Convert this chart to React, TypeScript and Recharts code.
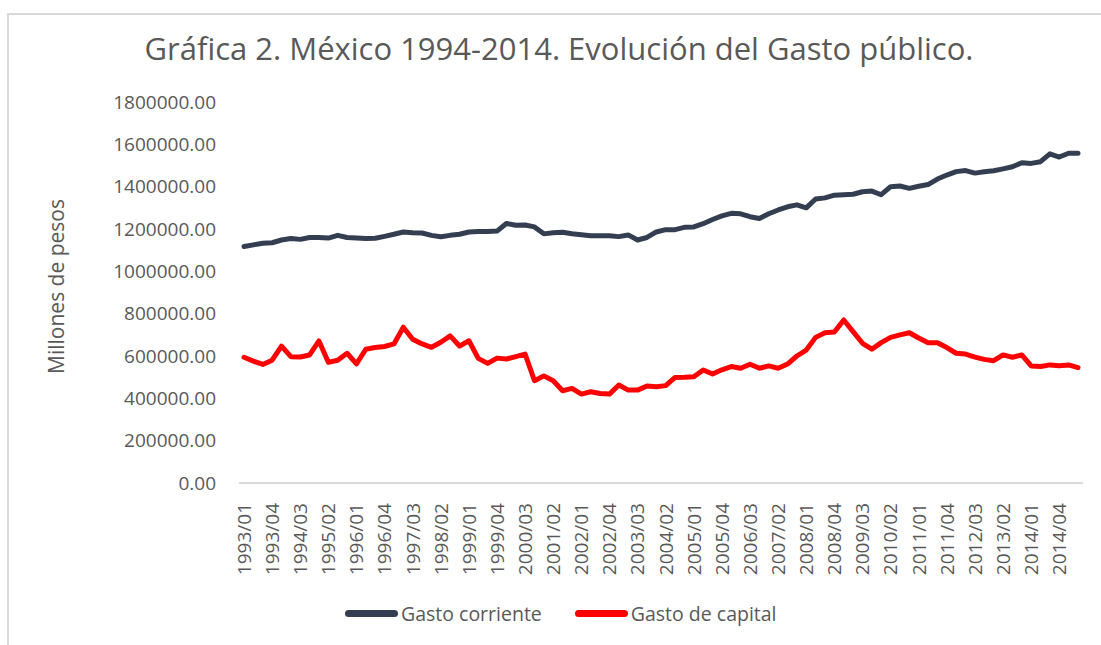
import React from 'react';
import { LineChart, Line, XAxis, YAxis, Legend, Label } from 'recharts';

const categories = [
  '1993/01','1993/02','1993/03','1993/04','1994/01','1994/02','1994/03','1994/04',
  '1995/01','1995/02','1995/03','1995/04','1996/01','1996/02','1996/03','1996/04',
  '1997/01','1997/02','1997/03','1997/04','1998/01','1998/02','1998/03','1998/04',
  '1999/01','1999/02','1999/03','1999/04','2000/01','2000/02','2000/03','2000/04',
  '2001/01','2001/02','2001/03','2001/04','2002/01','2002/02','2002/03','2002/04',
  '2003/01','2003/02','2003/03','2003/04','2004/01','2004/02','2004/03','2004/04',
  '2005/01','2005/02','2005/03','2005/04','2006/01','2006/02','2006/03','2006/04',
  '2007/01','2007/02','2007/03','2007/04','2008/01','2008/02','2008/03','2008/04',
  '2009/01','2009/02','2009/03','2009/04','2010/01','2010/02','2010/03','2010/04',
  '2011/01','2011/02','2011/03','2011/04','2012/01','2012/02','2012/03','2012/04',
  '2013/01','2013/02','2013/03','2013/04','2014/01','2014/02','2014/03','2014/04',
  '2015/01','2015/02',
];

const gastoCorriente = [
  1117000, 1125000, 1133000, 1135000, 1148000, 1155000, 1151000, 1160000, 1160000, 1157000,
  1170000, 1160000, 1158000, 1155000, 1156000, 1165000, 1175000, 1186000, 1182000, 1181000,
  1170000, 1163000, 1170000, 1175000, 1186000, 1188000, 1188000, 1190000, 1226000, 1218000,
  1219000, 1210000, 1177000, 1182000, 1185000, 1178000, 1173000, 1168000, 1168000, 1168000,
  1164000, 1172000, 1148000, 1160000, 1186000, 1197000, 1197000, 1208000, 1210000, 1225000,
  1245000, 1262000, 1274000, 1272000, 1258000, 1250000, 1272000, 1290000, 1305000, 1314000,
  1300000, 1342000, 1347000, 1360000, 1362000, 1364000, 1376000, 1379000, 1362000, 1400000,
  1403000, 1392000, 1402000, 1410000, 1436000, 1455000, 1471000, 1476000, 1464000, 1470000,
  1475000, 1484000, 1494000, 1513000, 1510000, 1518000, 1555000, 1540000, 1558000, 1558000,
];

const gastoCapital = [
  594000, 576000, 560000, 580000, 647000, 597000, 595000, 605000, 671000, 570000,
  580000, 613000, 563000, 632000, 640000, 645000, 657000, 736000, 679000, 657000,
  641000, 665000, 695000, 647000, 672000, 589000, 565000, 590000, 586000, 597000,
  609000, 483000, 506000, 483000, 436000, 447000, 420000, 431000, 423000, 420000,
  463000, 439000, 439000, 458000, 455000, 460000, 499000, 500000, 502000, 534000,
  515000, 535000, 550000, 542000, 561000, 542000, 553000, 542000, 562000, 600000,
  628000, 688000, 710000, 713000, 770000, 715000, 660000, 632000, 663000, 688000,
  700000, 710000, 685000, 663000, 663000, 640000, 613000, 609000, 595000, 584000,
  578000, 605000, 594000, 605000, 553000, 550000, 558000, 554000, 558000, 545000,
];

const yTicks = [0, 200000, 400000, 600000, 800000, 1000000, 1200000, 1400000, 1600000, 1800000];

const seriesNames = { corriente: 'Gasto corriente', capital: 'Gasto de capital' };
const titleText = 'Gráfica 2. México 1994-2014. Evolución del Gasto público.';
const yAxisTitle = 'Millones de pesos';

const data = categories.map((c, i) => ({
  periodo: c,
  corriente: gastoCorriente[i],
  capital: gastoCapital[i],
}));

const FONT = '"Open Sans", "Noto Sans", sans-serif';
const GRAY = '#595959';
const DARK = '#333F50';
const RED = '#FF0000';

const XTick = (props: any) => {
  const { x, y, payload } = props;
  return (
    <text
      x={x}
      y={y}
      transform={`rotate(-90 ${x} ${y})`}
      textAnchor="end"
      dy="0.36em"
      fill={GRAY}
      fontSize={19}
      fontFamily={FONT}
    >
      {payload.value}
    </text>
  );
};

const YTitle = (props: any) => {
  const vb = props.viewBox || {};
  const cx = 56;
  const cy = (vb.y || 0) + (vb.height || 0) / 2 - 6;
  return (
    <text
      x={cx}
      y={cy}
      transform={`rotate(-90 ${cx} ${cy})`}
      textAnchor="middle"
      dy="0.36em"
      fill={GRAY}
      fontSize={21}
      fontFamily={FONT}
    >
      {yAxisTitle}
    </text>
  );
};

const renderLegend = () => (
  <div
    style={{
      display: 'flex',
      alignItems: 'center',
      fontFamily: FONT,
      fontSize: 19.5,
      color: GRAY,
      whiteSpace: 'nowrap',
    }}
  >
    <span style={{ display: 'inline-block', width: 53, height: 7, borderRadius: 4, background: DARK }} />
    <span style={{ marginLeft: 3 }}>{seriesNames.corriente}</span>
    <span style={{ display: 'inline-block', width: 53, height: 7, borderRadius: 4, background: RED, marginLeft: 33 }} />
    <span style={{ marginLeft: 3 }}>{seriesNames.capital}</span>
  </div>
);

export default function App() {
  return (
    <div style={{ position: 'absolute', left: 0, top: 0, width: 1101, height: 645, background: '#fff', overflow: 'hidden' }}>
      <div
        style={{
          position: 'absolute',
          left: 7,
          top: 13,
          right: -4,
          bottom: -4,
          borderLeft: '2px solid #d9d9d9',
          borderTop: '2px solid #d9d9d9',
        }}
      />
      <div
        style={{
          position: 'absolute',
          left: 0,
          top: 27,
          width: 1118,
          textAlign: 'center',
          fontFamily: FONT,
          fontSize: 31,
          color: GRAY,
          whiteSpace: 'nowrap',
        }}
      >
        {titleText}
      </div>
      <div style={{ position: 'absolute', left: 0, top: 0 }}>
        <LineChart width={1101} height={645} data={data} margin={{ top: 102, right: 18, bottom: 62, left: 0 }}>
          <XAxis
            dataKey="periodo"
            interval={2}
            tick={<XTick />}
            tickLine={false}
            tickMargin={14}
            height={100}
            padding={{ left: 5, right: 5 }}
            axisLine={{ stroke: '#d9d9d9', strokeWidth: 2 }}
          />
          <YAxis
            type="number"
            domain={[0, 1800000]}
            ticks={yTicks}
            interval={0}
            width={239}
            axisLine={false}
            tickLine={false}
            tickMargin={17}
            tickFormatter={(v: number) => v.toFixed(2)}
            tick={{ fill: GRAY, fontSize: 19, fontFamily: FONT }}
          >
            <Label content={<YTitle />} />
          </YAxis>
          <Legend
            content={renderLegend}
            layout="horizontal"
            verticalAlign="middle"
            align="center"
            wrapperStyle={{ position: 'absolute', left: 345, top: 600, width: 600, height: 28 }}
          />
          <Line
            type="linear"
            dataKey="corriente"
            name={seriesNames.corriente}
            stroke={DARK}
            strokeWidth={5}
            strokeLinejoin="round"
            strokeLinecap="round"
            dot={false}
            activeDot={false}
            isAnimationActive={false}
          />
          <Line
            type="linear"
            dataKey="capital"
            name={seriesNames.capital}
            stroke={RED}
            strokeWidth={5}
            strokeLinejoin="round"
            strokeLinecap="round"
            dot={false}
            activeDot={false}
            isAnimationActive={false}
          />
        </LineChart>
      </div>
    </div>
  );
}
